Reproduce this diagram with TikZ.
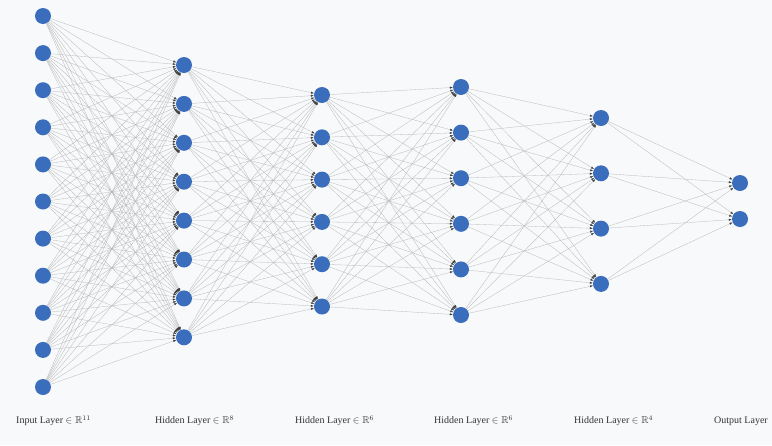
\documentclass[tikz,border=0pt]{standalone}
\usepackage{fontspec}
\usepackage{amssymb}
\setmainfont{Liberation Serif}
\usetikzlibrary{arrows.meta}
\definecolor{nodeblue}{RGB}{58,110,188}
\definecolor{bgpaper}{RGB}{248,249,250}
\begin{document}
\begin{tikzpicture}[x=1pt, y=-1pt,
    neuron/.style={circle, fill=nodeblue, minimum size=16pt, inner sep=0pt},
    line/.style={draw, black!28, line width=0.3pt, -{Latex[length=3pt, width=2.2pt, black!75]}},
    layerlabel/.style={anchor=west, font=\fontsize{10}{11}\selectfont, text=black!80, inner sep=0pt}
    ]
    \fill [bgpaper] (0, 0) rectangle (772, 445);

    % layers: index / x / top y / spacing / count
    \foreach \l/\x/\y/\d/\n in {0/43/16/37.1/11, 1/184/65/38.9/8, 2/322/95/42.3/6,
                                3/461/87/45.6/6, 4/601/118/55.3/4, 5/740/183/36/2} {
      \foreach \i in {1,...,\n}
        \node [neuron] (n\l-\i) at (\x, {\y+(\i-1)*\d}) {};
    }

    % connections
    \foreach \a/\na/\b/\nb in {0/11/1/8, 1/8/2/6, 2/6/3/6, 3/6/4/4, 4/4/5/2} {
      \foreach \i in {1,...,\na}
        \foreach \j in {1,...,\nb}
          \path [line] (n\a-\i) -- (n\b-\j);
    }

    % labels
    \node [layerlabel] (lin) at (16, 421) {Input Layer $\in \mathbb{R}^{11}$};
    \node [layerlabel] (lh1) at (155, 421) {Hidden Layer $\in \mathbb{R}^{8}$};
    \node [layerlabel] (lh2) at (295, 421) {Hidden Layer $\in \mathbb{R}^{6}$};
    \node [layerlabel] (lh3) at (434, 421) {Hidden Layer $\in \mathbb{R}^{6}$};
    \node [layerlabel] (lh4) at (574, 421) {Hidden Layer $\in \mathbb{R}^{4}$};
    \node [layerlabel] (lout) at (714, 421) {Output Layer};
  \end{tikzpicture}
\end{document}
